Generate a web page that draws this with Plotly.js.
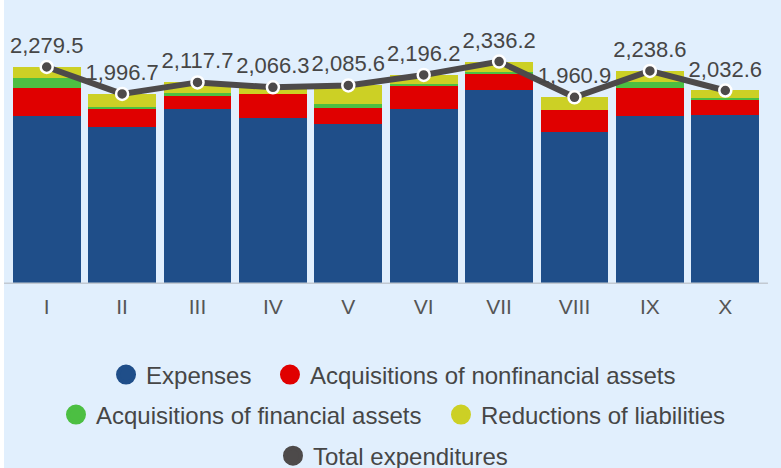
<!DOCTYPE html>
<html>
<head>
<meta charset="utf-8">
<script src="https://cdn.plot.ly/plotly-3.0.1.min.js"></script>
<style>
  html, body { margin: 0; padding: 0; background: #ffffff; }
  #chart { position: absolute; left: 4px; top: 0; width: 777px; height: 468px; }
</style>
</head>
<body>
<div id="chart"></div>
<script>
const months = ["I", "II", "III", "IV", "V", "VI", "VII", "VIII", "IX", "X"];
const expenses = [1766, 1649, 1838, 1748, 1681, 1836, 2042, 1597, 1769, 1772];
const nonfinancialAssets = [294, 188, 140, 247, 170, 248, 168, 228, 294, 165];
const financialAssets = [105, 21, 24, 5, 43, 21, 21, 3, 60, 21];
const liabilities = [115, 139, 116, 66, 192, 91, 105, 133, 116, 75];
const totalExpenditures = [2279.5, 1996.7, 2117.7, 2066.3, 2085.6, 2196.2, 2336.2, 1960.9, 2238.6, 2032.6];
const totalLabels = totalExpenditures.map(v => v.toLocaleString("en-US", {minimumFractionDigits: 1, maximumFractionDigits: 1}));

const seriesNames = ["Expenses", "Acquisitions of nonfinancial assets", "Acquisitions of financial assets", "Reductions of liabilities", "Total expenditures"];
const colors = ["#1f4e89", "#e00000", "#4cbf42", "#ccd025", "#4d4a4a"];
const legendIds = ["legend", "legend2", "legend3", "legend4", "legend5"];

const textColor = "#464646";
const font = "Liberation Sans, Arial, sans-serif";

const barSeries = [expenses, nonfinancialAssets, financialAssets, liabilities];
const traces = barSeries.map((vals, i) => ({
  type: "bar",
  x: months,
  y: vals,
  name: seriesNames[i],
  legend: legendIds[i],
  marker: {color: colors[i], line: {width: 0}},
  showlegend: false,
  hoverinfo: "skip"
}));

traces.push({
  type: "scatter",
  mode: "lines+markers+text",
  x: months,
  y: totalExpenditures,
  text: totalLabels,
  textposition: "top center",
  textfont: {family: font, size: 22, color: textColor},
  cliponaxis: false,
  name: seriesNames[4],
  legend: "legend5",
  line: {color: colors[4], width: 6},
  marker: {color: colors[4], size: 12, line: {color: "#ffffff", width: 2.5}},
  showlegend: false
});

// legend entries (circle symbols)
seriesNames.forEach((n, i) => {
  traces.push({
    type: "scatter",
    mode: "markers",
    x: [null],
    y: [null],
    name: n,
    legend: legendIds[i],
    marker: {color: colors[i], size: 16, symbol: "circle", line: {color: colors[i], width: 4}},
    showlegend: true
  });
});

const legendBase = {
  orientation: "h",
  traceorder: "normal",
  xref: "container",
  yref: "container",
  xanchor: "left",
  yanchor: "middle",
  bgcolor: "rgba(0,0,0,0)",
  font: {family: font, size: 24, color: textColor},
  itemclick: false
};
const rowY = [0.1987, 0.1132, 0.0255];

const layout = {
  width: 777,
  height: 468,
  margin: {l: 5, r: 18, t: 46, b: 184, pad: 0, autoexpand: false},
  paper_bgcolor: "#e1effd",
  plot_bgcolor: "#e1effd",
  barmode: "stack",
  bargap: 0.1,
  showlegend: true,
  font: {family: font, color: textColor},
  xaxis: {
    type: "category",
    range: [-0.5, 9.5],
    autorange: false,
    showgrid: false,
    zeroline: false,
    showline: false,
    ticks: "",
    ticklabelstandoff: 8,
    tickfont: {family: font, size: 21, color: "#555555"},
    fixedrange: true
  },
  yaxis: {
    range: [0, 2500],
    showgrid: false,
    zeroline: false,
    showline: false,
    showticklabels: false,
    ticks: "",
    fixedrange: true
  },
  shapes: [{
    type: "line",
    xref: "paper",
    yref: "y",
    x0: -0.008,
    x1: 1.0066,
    y0: 0,
    y1: 0,
    line: {color: "#c2c9d2", width: 3},
    layer: "above"
  }],
  legend: Object.assign({}, legendBase, {x: 0.1313, y: rowY[0]}),
  legend2: Object.assign({}, legendBase, {x: 0.3423, y: rowY[0]}),
  legend3: Object.assign({}, legendBase, {x: 0.0669, y: rowY[1]}),
  legend4: Object.assign({}, legendBase, {x: 0.5624, y: rowY[1]}),
  legend5: Object.assign({}, legendBase, {x: 0.3462, y: rowY[2]})
};

Plotly.newPlot("chart", traces, layout, {displayModeBar: false, staticPlot: true});
</script>
</body>
</html>
